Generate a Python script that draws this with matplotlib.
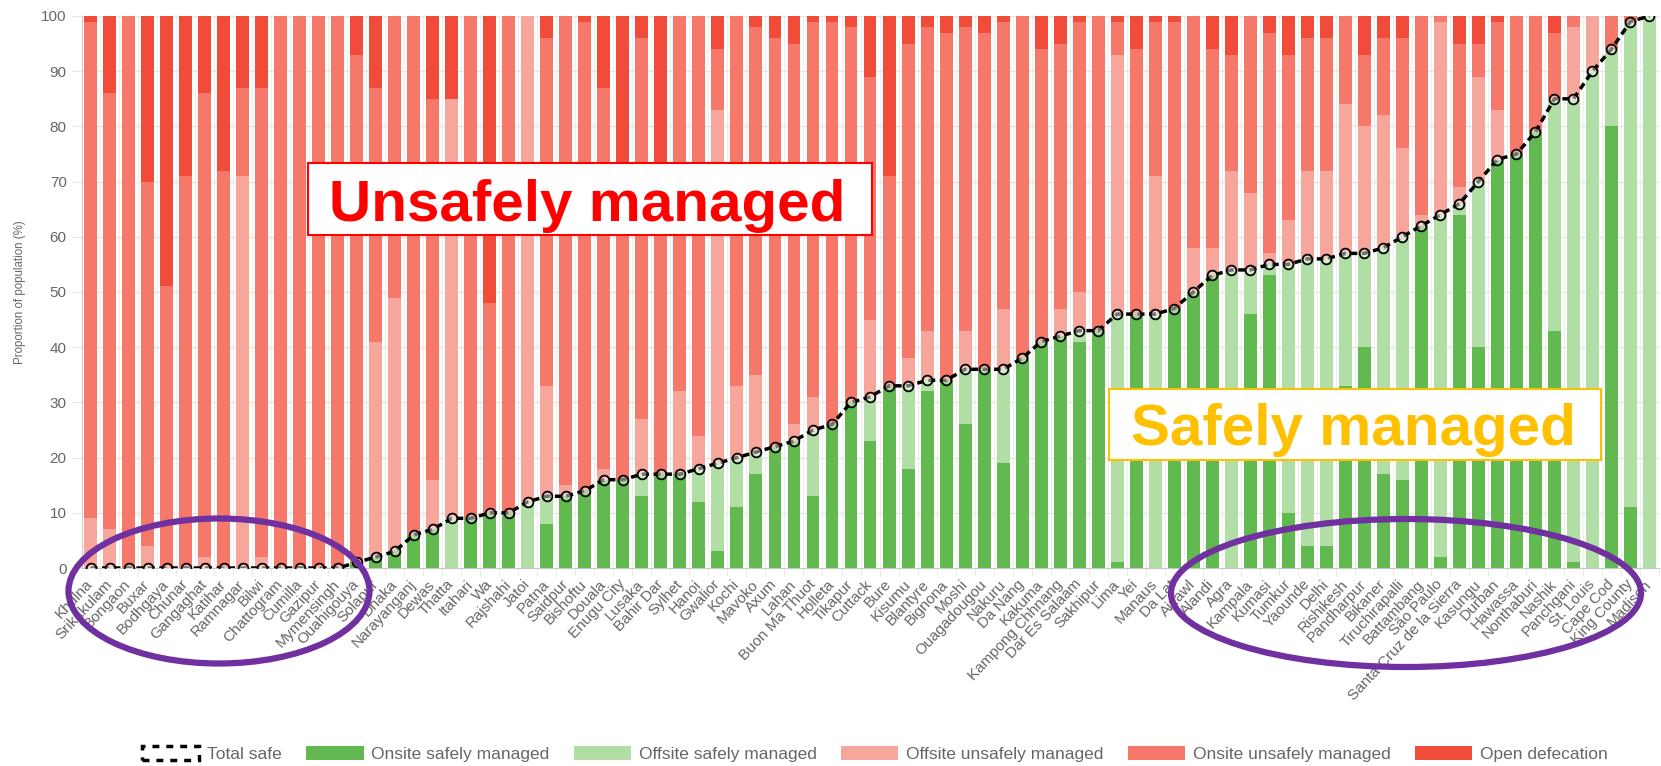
import matplotlib
matplotlib.use("Agg")
import matplotlib.pyplot as plt
import numpy as np
from matplotlib.patches import Patch, Rectangle, Ellipse

plt.rcParams['font.family'] = ['Liberation Sans', 'DejaVu Sans']

# ------------------------------------------------------------------ #
#  Data (proportion of population, %)                                  #
# ------------------------------------------------------------------ #

cities = [
    "Khulna", "Srikakulam", "Bongaon", "Buxar", "Bodhgaya", "Chunar", "Gangaghat",
    "Katihar", "Ramnagar", "Bilwi", "Chattogram", "Cumilla", "Gazipur", "Mymensingh",
    "Ouahigouya", "Solapur", "Dhaka", "Narayanganj", "Dewas", "Thatta", "Itahari",
    "Wa", "Rajshahi", "Jatoi", "Patna", "Saidpur", "Bishoftu", "Douala", "Enugu City",
    "Lusaka", "Bahir Dar", "Sylhet", "Hanoi", "Gwalior", "Kochi", "Mavoko", "Axum",
    "Lahan", "Buon Ma Thuot", "Holleta", "Tikapur", "Cuttack", "Bure", "Kisumu",
    "Blantyre", "Bignona", "Moshi", "Ouagadougou", "Nakuru", "Da Nang", "Kakuma",
    "Kampong Chhnang", "Dar Es Salaam", "Sakhipur", "Lima", "Yei", "Manaus", "Da Lat",
    "Aizawl", "Alandi", "Agra", "Kampala", "Kumasi", "Tumkur", "Yaounde", "Delhi",
    "Rishikesh", "Pandharpur", "Bikaner", "Tiruchirapalli", "Battambang", "São Paulo",
    "Santa Cruz de la Sierra", "Kasungu", "Durban", "Hawassa", "Nonthaburi", "Nashik",
    "Panchgani", "St. Louis", "Cape Cod", "King County", "Madison",
]

onsite_safe = [
    0, 0, 0, 0, 0, 0, 0, 0, 0, 0, 0, 0, 0, 0, 1, 2, 3, 6, 7, 0, 9, 10, 10, 0, 8, 13,
    14, 16, 16, 13, 17, 17, 12, 3, 11, 17, 22, 23, 13, 26, 30, 23, 33, 18, 32, 34,
    26, 36, 19, 38, 41, 42, 41, 43, 1, 46, 0, 47, 50, 53, 0, 46, 53, 10, 4, 4, 33,
    40, 17, 16, 62, 2, 64, 40, 74, 75, 79, 43, 1, 0, 80, 11, 0,
]
offsite_safe = [
    0, 0, 0, 0, 0, 0, 0, 0, 0, 0, 0, 0, 0, 0, 0, 0, 0, 0, 0, 9, 0, 0, 0, 12, 5, 0,
    0, 0, 0, 4, 0, 0, 6, 16, 9, 4, 0, 0, 12, 0, 0, 8, 0, 15, 2, 0, 10, 0, 17, 0, 0,
    0, 2, 0, 45, 0, 46, 0, 0, 0, 54, 8, 2, 45, 52, 52, 24, 17, 41, 44, 0, 62, 2, 30,
    0, 0, 0, 42, 84, 90, 14, 88, 100,
]
offsite_unsafe = [
    9, 7, 0, 4, 0, 0, 2, 0, 71, 2, 0, 0, 0, 0, 0, 39, 46, 0, 9, 76, 0, 0, 0, 88, 20,
    2, 0, 2, 0, 10, 0, 15, 6, 64, 13, 14, 0, 3, 6, 0, 0, 14, 0, 5, 9, 0, 7, 0, 11, 0,
    0, 5, 7, 0, 47, 0, 25, 0, 8, 5, 18, 14, 2, 8, 16, 16, 27, 23, 24, 16, 2, 35, 3,
    19, 9, 0, 0, 0, 13, 10, 0, 0, 0,
]
onsite_unsafe = [
    90, 79, 100, 66, 51, 71, 84, 72, 16, 85, 100, 100, 100, 100, 92, 46, 51, 94, 69,
    0, 91, 38, 90, 0, 63, 85, 85, 69, 57, 69, 56, 68, 76, 11, 67, 63, 74, 69, 68, 73,
    68, 44, 38, 57, 55, 63, 55, 61, 52, 62, 53, 48, 49, 57, 6, 48, 28, 52, 42, 36, 21,
    32, 40, 30, 24, 24, 16, 13, 14, 20, 36, 1, 26, 6, 16, 25, 21, 12, 2, 0, 6, 1, 0,
]
open_defecation = [
    1, 14, 0, 30, 49, 29, 14, 28, 13, 13, 0, 0, 0, 0, 7, 13, 0, 0, 15, 15, 0, 52, 0,
    0, 4, 0, 1, 13, 27, 4, 27, 0, 0, 6, 0, 2, 4, 5, 1, 1, 2, 11, 29, 5, 2, 3, 2, 3, 1,
    0, 6, 5, 1, 0, 1, 6, 1, 1, 0, 6, 7, 0, 3, 7, 4, 4, 0, 7, 4, 4, 0, 0, 5, 5, 1, 0,
    0, 3, 0, 0, 0, 0, 0,
]

layers = [
    (onsite_safe, "#62b950", "Onsite safely managed"),
    (offsite_safe, "#b0dea5", "Offsite safely managed"),
    (offsite_unsafe, "#f6a69b", "Offsite unsafely managed"),
    (onsite_unsafe, "#f5786a", "Onsite unsafely managed"),
    (open_defecation, "#f14c3a", "Open defecation"),
]

GRID = "#e6e6e6"
TEXT = "#666666"

# ------------------------------------------------------------------ #
#  Plot                                                                #
# ------------------------------------------------------------------ #

W, H = 1661, 766
fig = plt.figure(figsize=(W / 100, H / 100), dpi=100)
ax = fig.add_axes([82 / W, 198 / H, 1577 / W, 552 / H])

x = np.arange(len(cities))
bottom = np.zeros(len(cities))
for vals, color, label in layers:
    ax.bar(x, vals, 0.68, bottom=bottom, color=color, zorder=2)
    bottom += np.array(vals)

total_safe = np.array(onsite_safe) + np.array(offsite_safe)
ax.plot(x, total_safe, ls=(0, (2, 1.3)), color="black", lw=2.5, marker="o",
        ms=7, mfc=(1, 1, 1, 0.45), mec="black", mew=1.3, zorder=3)

ax.set_xlim(-0.45, len(cities) - 0.55)
ax.set_ylim(0, 100)

ax.set_yticks(range(0, 101, 10))
ax.yaxis.grid(True, color=GRID, lw=1, zorder=0)
ax.set_xticks(x + 0.5, minor=True)
ax.xaxis.grid(True, which="minor", color="#efefef", lw=0.8, zorder=0)
ax.set_xticks(x)
ax.set_xticklabels(cities, rotation=47, ha="right", va="center",
                   rotation_mode="anchor", fontsize=11, color=TEXT)
ax.tick_params(axis="x", which="major", length=0, pad=10)
ax.tick_params(axis="x", which="minor", length=6, color=GRID)
ax.tick_params(axis="y", length=7, color=GRID, labelcolor=TEXT, labelsize=11, pad=4)
ax.set_ylabel("Proportion of population (%)", fontsize=8.3, color=TEXT, labelpad=11)

for side in ["top", "right"]:
    ax.spines[side].set_visible(False)
ax.spines["left"].set_color("#d0d0d0")
ax.spines["bottom"].set_color("#c8c8c8")

# ------------------------------------------------------------------ #
#  Annotations                                                         #
# ------------------------------------------------------------------ #

fig.patches.append(Rectangle((308 / W, 1 - 235 / H), 564 / W, 72 / H, transform=fig.transFigure,
                             facecolor="white", edgecolor="#ff0000", lw=1.5, zorder=5))
fig.text(587 / W, 1 - 221 / H, "Unsafely managed", ha="center", va="baseline",
         fontsize=42, fontweight="bold", color="#ff0000", zorder=6)

fig.patches.append(Rectangle((1109 / W, 1 - 460 / H), 492 / W, 71 / H, transform=fig.transFigure,
                             facecolor="white", edgecolor="#ffc000", lw=1.5, zorder=5))
fig.text(1353 / W, 1 - 445 / H, "Safely managed", ha="center", va="baseline",
         fontsize=42, fontweight="bold", color="#ffc000", zorder=6)

fig.patches.append(Ellipse((219 / W, 1 - 591 / H), 301 / W, 145 / H, transform=fig.transFigure,
                           fill=False, edgecolor="#7030a0", lw=4.5, zorder=7))
fig.patches.append(Ellipse((1406 / W, 1 - 593 / H), 470 / W, 148 / H, transform=fig.transFigure,
                           fill=False, edgecolor="#7030a0", lw=4.5, zorder=7))

# ------------------------------------------------------------------ #
#  Legend                                                              #
# ------------------------------------------------------------------ #

handles = [Patch(facecolor="white", edgecolor="black", linestyle=(0, (2, 2)), lw=2.5)]
handles += [Patch(facecolor=c, edgecolor="none") for _, c, _ in layers]
labels = ["Total safe"] + [lab for _, _, lab in layers]
fig.legend(handles, labels, loc="center", bbox_to_anchor=(875 / W, 12 / H), ncol=6,
           frameon=False, fontsize=12.5, labelcolor=TEXT, handlelength=3.3,
           handleheight=0.9, handletextpad=0.45, columnspacing=1.4)

fig.savefig("out.png", dpi=100)
